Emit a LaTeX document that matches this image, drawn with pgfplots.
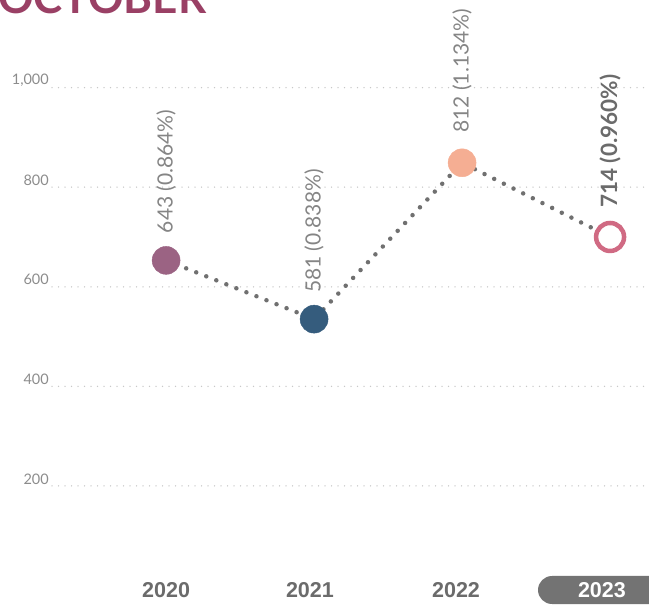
\documentclass[border=0pt]{standalone}
\usepackage{pgfplots}
\pgfplotsset{compat=1.18}
\usepackage{fontspec}
\setmainfont{Lato}
\newfontfamily\yearfont{Liberation Sans}
\definecolor{titlec}{HTML}{9A4065}
\definecolor{cA}{HTML}{9B6383}
\definecolor{cB}{HTML}{355C7D}
\definecolor{cC}{HTML}{F5AE93}
\definecolor{cD}{HTML}{D06A83}
\definecolor{linec}{HTML}{707070}
\definecolor{gridc}{HTML}{C8C8C8}
\definecolor{tickc}{HTML}{8C8C8C}
\definecolor{labc}{HTML}{858585}
\definecolor{pillc}{HTML}{737373}
\definecolor{yearc}{HTML}{6B6B6B}
\begin{document}
\begin{tikzpicture}
\fill[pillc, rounded corners=14bp] (486bp,-22bp) rectangle (640bp,6bp);
\begin{axis}[
  at={(0,0)}, anchor=south west, scale only axis,
  width=597bp, height=582bp,
  xmin=-0.771, xmax=3.263, ymin=7, ymax=1176,
  axis line style={draw=none}, major tick length=0pt,
  ytick={200,400,600,800,1000},
  ymajorgrids,
  grid style={gridc, line width=1.5bp, dash pattern=on 0bp off 6.5bp, line cap=round},
  xtick={0,0.972,1.959,2.945},
  xticklabels={\textcolor{yearc}{2020},\textcolor{yearc}{2021},\textcolor{yearc}{2022},\textcolor{white}{2023}},
  xticklabel style={anchor=center, yshift=-8bp, font=\yearfont\bfseries\fontsize{21.5bp}{24bp}\selectfont},
  yticklabel style={anchor=east, inner sep=0pt, xshift=-3bp, yshift=7bp, text=tickc, font=\fontsize{14.5bp}{16bp}\selectfont},
  /pgf/number format/assume math mode=true,
  /pgf/number format/1000 sep={,},
  clip=false,
]
\addplot[linec, line width=4.5bp, line cap=round, dash pattern=on 0bp off 10.8bp, mark=none]
  coordinates {(0,653) (1,535) (2,849) (3,700)};
\addplot[cA, only marks, mark=*, mark size=14bp, mark options={solid, line width=0.4bp}] coordinates {(0,653)};
\addplot[cB, only marks, mark=*, mark size=14bp, mark options={solid, line width=0.4bp}] coordinates {(1,535)};
\addplot[cC, only marks, mark=*, mark size=14bp, mark options={solid, line width=0.4bp}] coordinates {(2,849)};
\addplot[cD, only marks, mark=*, mark size=14bp, mark options={solid, fill=white, line width=4.5bp}] coordinates {(3,700)};
\node[rotate=90, anchor=west, inner sep=0pt, text=labc, font=\fontsize{21bp}{24bp}\selectfont] at ([yshift=27bp]axis cs:0,653) {643 (0.864\%)};
\node[rotate=90, anchor=west, inner sep=0pt, text=labc, font=\fontsize{21bp}{24bp}\selectfont] at ([yshift=26bp]axis cs:1,535) {581 (0.838\%)};
\node[rotate=90, anchor=west, inner sep=0pt, text=labc, font=\fontsize{21bp}{24bp}\selectfont] at ([yshift=30bp]axis cs:2,849) {812 (1.134\%)};
\node[rotate=90, anchor=west, inner sep=0pt, text=yearc, font=\bfseries\fontsize{22.5bp}{25bp}\selectfont] at ([yshift=29bp]axis cs:3,700) {714 (0.960\%)};
\end{axis}
\node[anchor=base west, inner sep=0pt, text=titlec, font=\bfseries\fontsize{44bp}{48bp}\selectfont] at (-54bp,568bp) {OCTOBER};
\pgfresetboundingbox
\useasboundingbox (-52bp,-23bp) rectangle (597bp,582bp);
\end{tikzpicture}
\end{document}
